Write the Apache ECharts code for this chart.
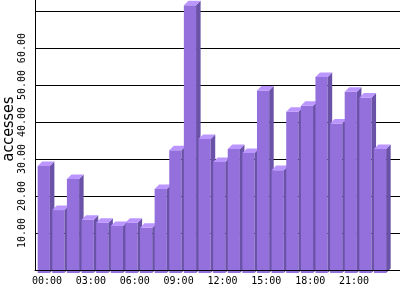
<!DOCTYPE html>
<html>
<head>
<meta charset="utf-8">
<script src="https://cdn.jsdelivr.net/npm/echarts@6/dist/echarts.min.js"></script>
<style>html,body{margin:0;padding:0;background:#fff}#c{width:400px;height:300px}</style>
</head>
<body>
<div id="c"></div>
<script>
var categories = ['00:00','01:00','02:00','03:00','04:00','05:00','06:00','07:00','08:00','09:00','10:00','11:00',
                  '12:00','13:00','14:00','15:00','16:00','17:00','18:00','19:00','20:00','21:00','22:00','23:00'];
var accesses = [28.1, 16.2, 24.6, 13.6, 12.8, 11.9, 12.8, 11.4, 21.9, 32.4, 71.6, 35.4,
                29.2, 32.7, 31.6, 48.5, 27.0, 42.8, 44.4, 52.2, 39.6, 48.2, 46.6, 32.7];
var yTicks = [10, 20, 30, 40, 50, 60];

var chart = echarts.init(document.getElementById('c'), null, {renderer: 'canvas'});
var mono = 'DejaVu Sans Mono, monospace';

function render3d(params, api) {
  var idx = api.value(0);
  var c = api.coord([idx, api.value(1)]);
  var b = api.coord([idx, 0]);
  var s = api.size([1, 0])[0];
  var w = s * 0.835, dx = s * 0.31, dy = s * 0.31;
  var x0 = c[0] - s * 0.64, x1 = x0 + w;
  var yt = c[1], yb = b[1] + 3;
  return {
    type: 'group',
    children: [
      {type: 'polygon', shape: {points: [[x0, yt], [x1, yt], [x1, yb], [x0, yb]]}, style: {fill: '#9370DB'}},
      {type: 'polygon', shape: {points: [[x1, yt], [x1 + dx, yt - dy], [x1 + dx, yb - dy], [x1, yb]]}, style: {fill: '#6A52A8'}},
      {type: 'polygon', shape: {points: [[x0, yt], [x0 + dx, yt - dy], [x1 + dx, yt - dy], [x1, yt]]}, style: {fill: '#BC96FF'}}
    ]
  };
}

chart.setOption({
  animation: false,
  backgroundColor: '#fff',
  grid: [
    {left: 35, right: 0, top: 0, bottom: 30, outerBoundsMode: 'none', containLabel: false},
    {left: 39.7, right: 9.4, top: 0, bottom: 30, outerBoundsMode: 'none', containLabel: false}
  ],
  xAxis: [
    {type: 'category', gridIndex: 0, data: categories, z: 10,
     axisLine: {show: true, lineStyle: {color: '#000', width: 1}},
     axisTick: {show: false}, axisLabel: {show: false}, splitLine: {show: false}},
    {type: 'category', gridIndex: 1, data: categories,
     axisLine: {show: false}, axisTick: {show: false},
     axisLabel: {interval: 2, margin: 6, color: '#000', fontFamily: mono, fontSize: 10}}
  ],
  yAxis: [
    {type: 'value', gridIndex: 0, min: 0, max: 73, interval: 10,
     name: 'accesses', nameLocation: 'middle', nameGap: 18, nameRotate: 90, nameMoveOverlap: false,
     nameTextStyle: {color: '#000', fontFamily: 'DejaVu Sans Condensed, Liberation Sans Narrow, sans-serif', fontSize: 16, padding: [0, 0, 0, 12]},
     axisLine: {show: true, lineStyle: {color: '#000', width: 1}},
     axisTick: {show: false},
     axisLabel: {rotate: 90, margin: 8, color: '#000', fontFamily: mono, fontSize: 10,
       showMaxLabel: false, showMinLabel: false,
       formatter: function (v) { return yTicks.indexOf(v) >= 0 ? v.toFixed(2) : ''; }},
     splitLine: {show: true, showMinLine: false, showMaxLine: false, lineStyle: {color: '#000', width: 1}}},
    {type: 'value', gridIndex: 1, min: 0, max: 73, interval: 10, show: false, splitLine: {show: false}}
  ],
  series: [{
    type: 'custom',
    xAxisIndex: 1, yAxisIndex: 1,
    clip: false,
    renderItem: render3d,
    encode: {x: 0, y: 1},
    data: accesses.map(function (v, i) { return [i, v]; })
  }]
});
</script>
</body>
</html>
